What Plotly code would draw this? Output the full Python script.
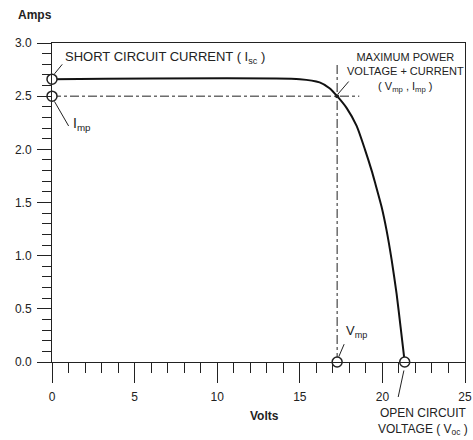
import plotly.graph_objects as go

# I-V curve
volts = [0, 15.0, 16.2, 16.8, 17.26, 17.83, 18.44, 18.94, 19.35, 19.55, 19.95, 20.25,
         20.56, 20.86, 21.10, 21.35]
amps = [2.66, 2.66, 2.63, 2.575, 2.50, 2.39, 2.22, 2.00, 1.80, 1.69, 1.46, 1.24,
        0.96, 0.64, 0.33, 0.0]

isc = 2.66
imp = 2.50
vmp = 17.26
voc = 21.35

x_ticks = [0, 5, 10, 15, 20, 25]
y_ticks = [0.0, 0.5, 1.0, 1.5, 2.0, 2.5, 3.0]

FONT = "Liberation Sans Narrow, Arial Narrow, Liberation Sans, Arial, sans-serif"
INK = "#222222"
XMAX, YMAX = 25.0, 3.0

fig = go.Figure()

# dash-dot crosshair at maximum power point
fig.add_trace(go.Scatter(x=[0, 18.6], y=[imp, imp], mode="lines",
                         line=dict(color=INK, width=1, dash="dashdot"),
                         hoverinfo="skip", showlegend=False))
fig.add_trace(go.Scatter(x=[vmp, vmp], y=[0, 2.82], mode="lines",
                         line=dict(color=INK, width=1, dash="dashdot"),
                         hoverinfo="skip", showlegend=False))

# I-V curve
fig.add_trace(go.Scatter(x=volts, y=amps, mode="lines",
                         line=dict(color="#111111", width=2, shape="spline", smoothing=0.6),
                         showlegend=False))

# marked points
fig.add_trace(go.Scatter(x=[0, 0, vmp, voc], y=[isc, imp, 0, 0], mode="markers",
                         marker=dict(symbol="circle", size=10, color="white",
                                     line=dict(color=INK, width=1.5)),
                         cliponaxis=False, showlegend=False))
fig.add_trace(go.Scatter(x=[vmp], y=[imp], mode="markers",
                         marker=dict(size=4, color=INK), showlegend=False))

def leader(x, y, ax, ay):
    # paper-referenced so it is never hidden when outside the axis range
    fig.add_annotation(x=x / XMAX, y=y / YMAX, ax=ax, ay=ay, xref="paper", yref="paper",
                       text="", showarrow=True, arrowhead=0, arrowwidth=1, arrowcolor=INK)

leader(0.15, 2.71, 9, -11)      # Isc
leader(0.15, 2.45, 15, 26)      # Imp
leader(vmp + 0.05, imp + 0.02, 12, -14)  # MPP
leader(vmp + 0.1, 0.05, 6, -14)  # Vmp
leader(voc - 0.05, -0.08, -6, 28)  # Voc

def label(x, y, text, size, xanchor="left", align="left", family=FONT):
    fig.add_annotation(x=x / XMAX, y=y / YMAX, xref="paper", yref="paper", text=text,
                       showarrow=False, xanchor=xanchor, yanchor="middle", align=align,
                       font=dict(family=family, size=size, color=INK))

label(0.64, 2.86, "SHORT CIRCUIT CURRENT ( I<sub>sc</sub> )", 13)
label(1.18, 2.24, "I<sub>mp</sub>", 14)
label(21.41, 2.72, "MAXIMUM POWER<br>VOLTAGE + CURRENT<br>( V<sub>mp</sub> , I<sub>mp</sub> )",
      11, xanchor="center", align="center")
label(17.67, 0.29, "V<sub>mp</sub>", 13)
label(22.45, -0.56, "OPEN CIRCUIT<br>VOLTAGE ( V<sub>oc</sub> )", 12, xanchor="center", align="center")
label(12.88, -0.51, "<b>Volts</b>", 12, xanchor="center", family="Liberation Sans, Arial, sans-serif")
label(-1.0, 3.265, "<b>Amps</b>", 12, xanchor="center", family="Liberation Sans, Arial, sans-serif")

fig.update_xaxes(range=[0, XMAX], tickvals=x_ticks, ticktext=[str(v) for v in x_ticks],
                 showgrid=False, zeroline=False, showline=True, linecolor=INK, linewidth=1,
                 mirror=True, ticks="outside", ticklen=20, tickwidth=1, tickcolor=INK,
                 minor=dict(dtick=1, ticks="outside", ticklen=10, tickwidth=1, tickcolor=INK),
                 tickfont=dict(family=FONT, size=12, color=INK), ticklabelstandoff=4,
                 automargin=False)
fig.update_yaxes(range=[0, YMAX], tickvals=y_ticks, ticktext=[f"{v:.1f}" for v in y_ticks],
                 showgrid=False, zeroline=False, showline=True, linecolor=INK, linewidth=1,
                 mirror=True, ticks="outside", ticklen=14, tickwidth=1, tickcolor=INK,
                 minor=dict(dtick=0.1, ticks="outside", ticklen=9, tickwidth=1, tickcolor=INK),
                 tickfont=dict(family=FONT, size=12, color=INK), ticklabelstandoff=3,
                 automargin=False)

fig.update_layout(width=473, height=440, margin=dict(l=52, r=8, t=43, b=78),
                  paper_bgcolor="white", plot_bgcolor="white", showlegend=False)

# remove the default page margin so the figure fills the window exactly
fig.write_html("out.html", config={"displayModeBar": False},
               post_script="document.body.style.margin='0';document.body.style.overflow='hidden';")
